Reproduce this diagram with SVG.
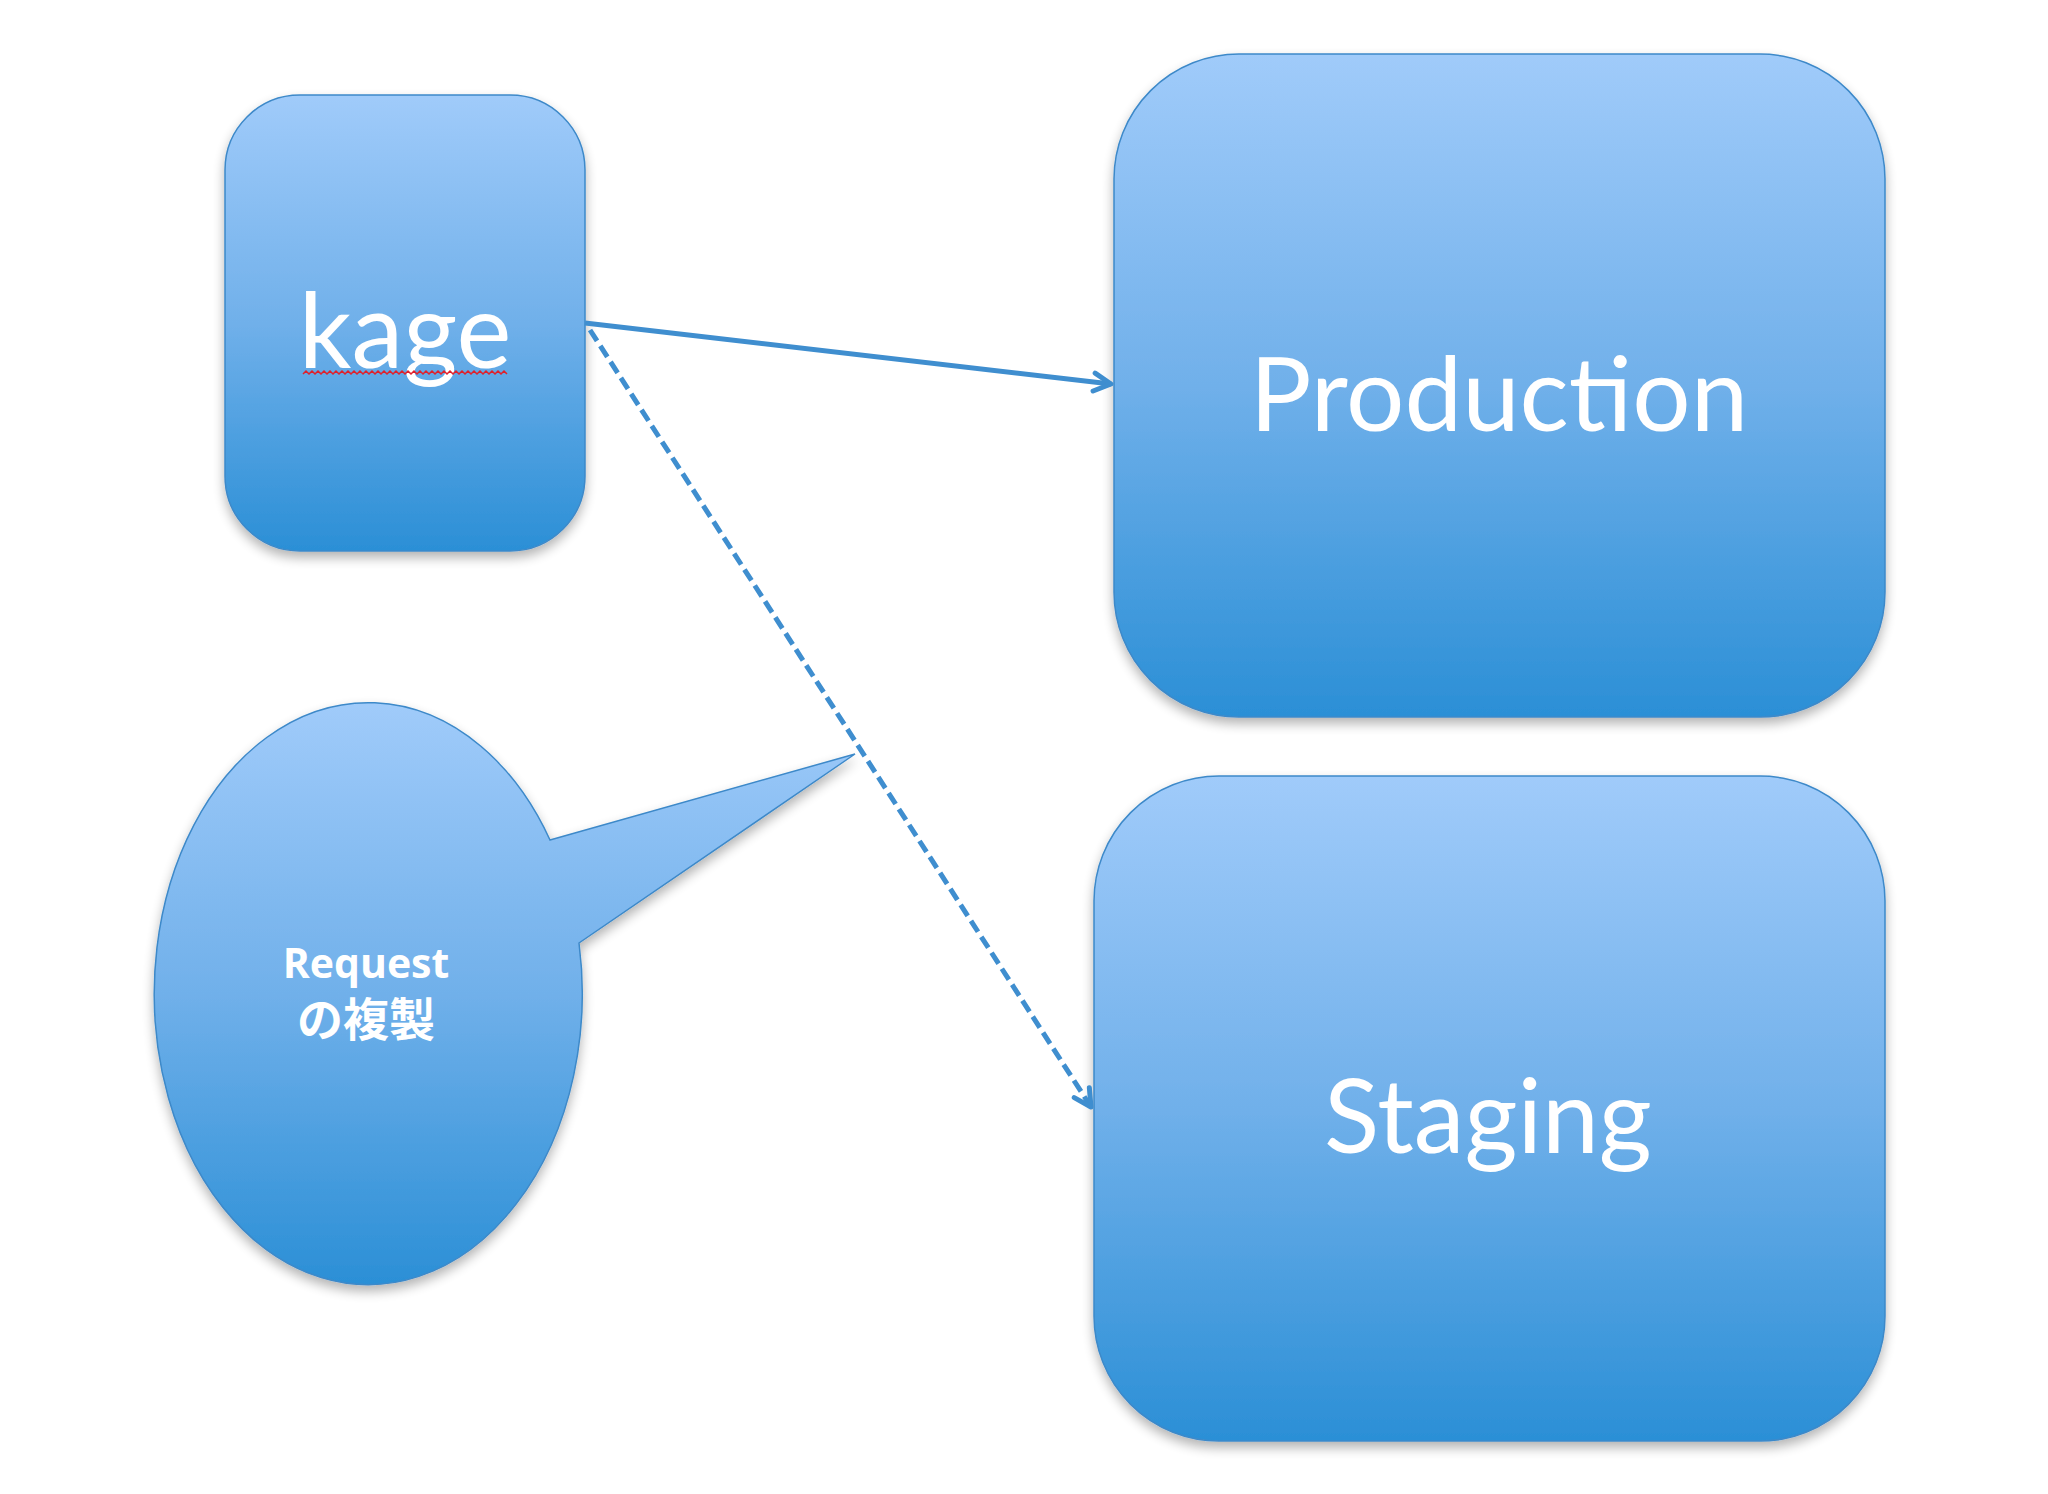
<svg xmlns="http://www.w3.org/2000/svg" width="2048" height="1494" viewBox="0 0 2048 1494">
<defs>
<linearGradient id="fillGrad" x1="0" y1="0" x2="0" y2="1">
<stop offset="0" stop-color="#a0cbfa"/>
<stop offset="0.5" stop-color="#70b0ea"/>
<stop offset="1" stop-color="#2b8fd6"/>
</linearGradient>
<filter id="shadow" x="-10%" y="-10%" width="120%" height="125%">
<feGaussianBlur in="SourceAlpha" stdDeviation="6"/>
<feOffset dx="0" dy="6" result="b"/>
<feComponentTransfer><feFuncA type="linear" slope="0.3"/></feComponentTransfer>
<feMerge><feMergeNode/><feMergeNode in="SourceGraphic"/></feMerge>
</filter>
<marker id="chev" viewBox="0 0 24 24" refX="21" refY="12" markerWidth="24" markerHeight="24" markerUnits="userSpaceOnUse" orient="auto">
<path d="M4,3 L21,12 L4,21" fill="none" stroke="#3f8ecf" stroke-width="5" stroke-linecap="round" stroke-linejoin="round"/>
</marker>
</defs>
<style>
.shape{fill:url(#fillGrad);stroke:#3d89c9;stroke-width:1.5;filter:url(#shadow);}
.big{font-family:Lato,"Open Sans","Liberation Sans",sans-serif;fill:#ffffff;text-anchor:middle;}
.small{font-family:"Open Sans","Noto Sans CJK JP",sans-serif;fill:#ffffff;text-anchor:middle;font-weight:bold;}
.conn{fill:none;stroke:#3f8ecf;stroke-width:5;}
</style>
<rect width="2048" height="1494" fill="#ffffff"/>

<g id="kage">
<rect class="shape" x="225" y="95" width="360" height="456" rx="75" ry="75"/>
<text class="big" x="405" y="368" font-size="104">kage</text>
<polyline points="303,374 306,371 309,374 312,371 315,374 318,371 321,374 324,371 327,374 330,371 333,374 336,371 339,374 342,371 345,374 348,371 351,374 354,371 357,374 360,371 363,374 366,371 369,374 372,371 375,374 378,371 381,374 384,371 387,374 390,371 393,374 396,371 399,374 402,371 405,374 408,371 411,374 414,371 417,374 420,371 423,374 426,371 429,374 432,371 435,374 438,371 441,374 444,371 447,374 450,371 453,374 456,371 459,374 462,371 465,374 468,371 471,374 474,371 477,374 480,371 483,374 486,371 489,374 492,371 495,374 498,371 501,374 504,371 507,374" fill="none" stroke="#e0202a" stroke-width="1.5"/>
</g>

<g id="production">
<rect class="shape" x="1114" y="54" width="771" height="663" rx="125" ry="125"/>
<text class="big" x="1499" y="431" font-size="103">Production</text>
</g>

<g id="staging">
<rect class="shape" x="1094" y="776" width="791" height="665" rx="125" ry="125"/>
<text class="big" x="1488" y="1153" font-size="102">Staging</text>
</g>

<g id="callout">
<path class="shape" d="M550,840 L855,754 L579,943 A214,291 0 1 1 550,840 Z"/>
<text class="small" x="366" y="978" font-size="41">Request</text>
<text class="small" x="366" y="1036" font-size="46">の複製</text>
</g>

<g id="connectors">
<line class="conn" x1="585" y1="323" x2="1111" y2="384" marker-end="url(#chev)"/>
<line class="conn" x1="590" y1="330" x2="1091" y2="1107" stroke-dasharray="13,6" marker-end="url(#chev)"/>
</g>
</svg>
